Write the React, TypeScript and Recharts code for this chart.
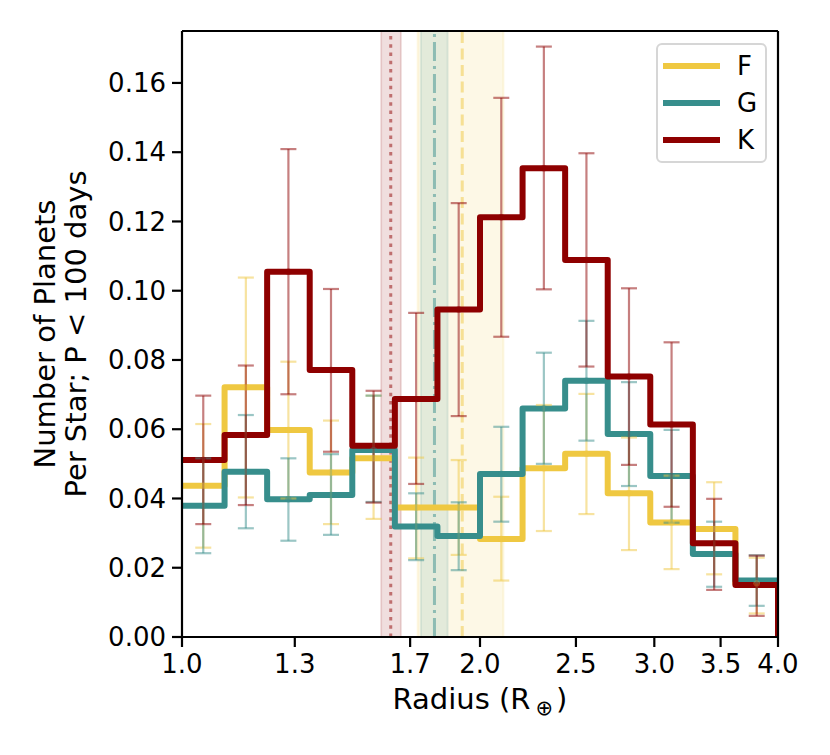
import React from "react";
import {
  ComposedChart,
  Line,
  Scatter,
  ErrorBar,
  XAxis,
  YAxis,
  ReferenceArea,
  ReferenceLine,
  Label,
} from "recharts";

// log-uniform radius bins, 1 to 4 Earth radii
const BIN_EDGES = [1.0, 1.1041, 1.219, 1.3459, 1.486, 1.6407, 1.8115, 2.0, 2.2082, 2.438, 2.6918, 2.9719, 3.2813, 3.6229, 4.0];
const BIN_CENTERS = [1.0507, 1.1601, 1.2808, 1.4142, 1.5614, 1.7239, 1.9033, 2.1015, 2.3203, 2.5618, 2.8284, 3.1228, 3.4479, 3.8068];

const F_VALUES = [0.0437, 0.0721, 0.0598, 0.0475, 0.0516, 0.0374, 0.0374, 0.0283, 0.0487, 0.0529, 0.0415, 0.0331, 0.0312, 0.0155];
const F_LOW = [0.0258, 0.0403, 0.040, 0.0326, 0.0341, 0.0227, 0.0237, 0.0163, 0.0306, 0.0355, 0.0251, 0.0196, 0.0181, 0.0068];
const F_HIGH = [0.0615, 0.1038, 0.0795, 0.0625, 0.0697, 0.0518, 0.0511, 0.0405, 0.067, 0.0702, 0.0576, 0.0466, 0.0447, 0.0229];

const G_VALUES = [0.0379, 0.0477, 0.0398, 0.041, 0.054, 0.0319, 0.0292, 0.0471, 0.066, 0.074, 0.0586, 0.0465, 0.024, 0.0163];
const G_LOW = [0.0242, 0.0314, 0.0278, 0.0295, 0.039, 0.0222, 0.0193, 0.0333, 0.05, 0.0567, 0.0436, 0.033, 0.0145, 0.009];
const G_HIGH = [0.0516, 0.0641, 0.0516, 0.0528, 0.0697, 0.0415, 0.0389, 0.0607, 0.0821, 0.0913, 0.0736, 0.0598, 0.0333, 0.0236];

const K_VALUES = [0.0511, 0.0583, 0.1055, 0.0771, 0.0552, 0.0687, 0.0946, 0.1212, 0.1354, 0.1089, 0.0752, 0.0614, 0.0271, 0.015];
const K_LOW = [0.0326, 0.0381, 0.0701, 0.0535, 0.0388, 0.0442, 0.0638, 0.0867, 0.1004, 0.0781, 0.0497, 0.0376, 0.0136, 0.0061];
const K_HIGH = [0.0697, 0.0784, 0.1409, 0.1005, 0.0711, 0.0936, 0.1253, 0.1557, 0.1705, 0.1397, 0.1007, 0.0851, 0.0399, 0.0235];

const X_TICKS = [1.0, 1.3, 1.7, 2.0, 2.5, 3.0, 3.5, 4.0];
const Y_TICKS = [0, 0.02, 0.04, 0.06, 0.08, 0.1, 0.12, 0.14, 0.16];

const F_COLOR = "#EFC841";
const G_COLOR = "#378E8C";
const K_COLOR = "#8E0000";

const SERIES = [
  { name: "F", color: F_COLOR, values: F_VALUES, low: F_LOW, high: F_HIGH },
  { name: "G", color: G_COLOR, values: G_VALUES, low: G_LOW, high: G_HIGH },
  { name: "K", color: K_COLOR, values: K_VALUES, low: K_LOW, high: K_HIGH },
];

// radius gap location per spectral type: band = range, line = centre
const GAP_BANDS = [
  { x1: 1.73, x2: 2.112, color: F_COLOR },
  { x1: 1.743, x2: 1.855, color: G_COLOR },
  { x1: 1.589, x2: 1.664, color: K_COLOR },
];
const GAP_LINES = [
  { x: 1.919, color: F_COLOR, dash: "11 5.5" },
  { x: 1.799, color: G_COLOR, dash: "19 5 3 5" },
  { x: 1.625, color: K_COLOR, dash: "3.5 4.8" },
];

const FONT = "'DejaVu Sans', Verdana, sans-serif";

const stepData = (values: number[]) => [
  ...BIN_EDGES.map((x, i) => ({ x, y: values[Math.min(i, values.length - 1)] })),
  { x: BIN_EDGES[BIN_EDGES.length - 1], y: 0 },
];

const errorData = (s: (typeof SERIES)[number]) =>
  BIN_CENTERS.map((x, i) => ({
    x,
    y: s.values[i],
    err: [s.values[i] - s.low[i], s.high[i] - s.values[i]],
  }));

const YAxisTitle = (props: any) => {
  const vb = props.viewBox || { y: 31, height: 606 };
  const cy = vb.y + vb.height / 2;
  return (
    <g fontFamily={FONT} fontSize={29} fill="#000">
      <text x={55} y={cy} textAnchor="middle" transform={`rotate(-90, 55, ${cy})`}>
        Number of Planets
      </text>
      <text x={86} y={cy} textAnchor="middle" transform={`rotate(-90, 86, ${cy})`}>
        Per Star; P &lt; 100 days
      </text>
    </g>
  );
};

const XAxisTitle = (props: any) => {
  const vb = props.viewBox || { x: 182, width: 596 };
  const cx = vb.x + vb.width / 2;
  return (
    <text x={cx} y={709} textAnchor="middle" fontFamily={FONT} fontSize={29} fill="#000">
      <tspan>Radius (R</tspan>
      <tspan fontSize={21} dy={6} dx={5}>⊕</tspan>
      <tspan dy={-6} dx={3}>)</tspan>
    </text>
  );
};

export default function App() {
  return (
    <div style={{ position: "absolute", left: 0, top: 0, width: 830, height: 755, background: "#fff" }}>
      <ComposedChart width={830} height={755} margin={{ top: 31, right: 52, bottom: 0, left: 0 }}>
        <XAxis
          type="number"
          dataKey="x"
          scale="log"
          domain={[1, 4]}
          ticks={X_TICKS}
          allowDataOverflow
          height={118}
          tickSize={10}
          tickMargin={8}
          tickFormatter={(v: number) => v.toFixed(1)}
          tick={{ fontFamily: FONT, fontSize: 26, fill: "#000" }}
          axisLine={{ stroke: "#000", strokeWidth: 2.2 }}
          tickLine={{ stroke: "#000", strokeWidth: 2.2 }}
        >
          <Label content={XAxisTitle} />
        </XAxis>
        <YAxis
          type="number"
          dataKey="y"
          domain={[0, 0.175]}
          ticks={Y_TICKS}
          allowDataOverflow
          width={182}
          tickSize={10}
          tickMargin={6}
          tickFormatter={(v: number) => v.toFixed(2)}
          tick={{ fontFamily: FONT, fontSize: 26, fill: "#000" }}
          axisLine={{ stroke: "#000", strokeWidth: 2.2 }}
          tickLine={{ stroke: "#000", strokeWidth: 2.2 }}
        >
          <Label content={YAxisTitle} />
        </YAxis>

        {GAP_BANDS.map((b, i) => (
          <ReferenceArea
            key={`band-${i}`}
            x1={b.x1}
            x2={b.x2}
            y1={0}
            y2={0.175}
            fill={b.color}
            fillOpacity={0.13}
            stroke={b.color}
            strokeOpacity={0.13}
            strokeWidth={2}
          />
        ))}
        {GAP_LINES.map((l, i) => (
          <ReferenceLine
            key={`gap-${i}`}
            x={l.x}
            stroke={l.color}
            strokeOpacity={0.5}
            strokeWidth={3}
            strokeDasharray={l.dash}
          />
        ))}

        {SERIES.map((s) => (
          <Line
            key={`step-${s.name}`}
            data={stepData(s.values)}
            dataKey="y"
            type="stepAfter"
            stroke={s.color}
            strokeWidth={6}
            strokeLinejoin="round"
            dot={false}
            activeDot={false}
            isAnimationActive={false}
          />
        ))}

        {SERIES.map((s) => (
          <Scatter
            key={`err-${s.name}`}
            data={errorData(s)}
            dataKey="y"
            isAnimationActive={false}
            shape={(p: any) => <circle cx={p.cx} cy={p.cy} r={3.2} fill={s.color} fillOpacity={0.5} />}
          >
            <ErrorBar dataKey="err" direction="y" width={8} stroke={s.color + "80"} strokeWidth={2.2} />
          </Scatter>
        ))}

        <ReferenceLine y={0.175} stroke="#000" strokeWidth={2.2} />
        <ReferenceLine x={4} stroke="#000" strokeWidth={2.2} />
      </ComposedChart>

      <div
        style={{
          position: "absolute",
          left: 656,
          top: 43,
          width: 107,
          height: 116,
          border: "2px solid #d6d6d6",
          borderRadius: 6,
          background: "rgba(255,255,255,0.8)",
          fontFamily: FONT,
          fontSize: 26,
        }}
      >
        {SERIES.map((s, i) => (
          <div
            key={s.name}
            style={{ position: "absolute", left: 5, top: 5 + i * 37, height: 32, display: "flex", alignItems: "center" }}
          >
            <div style={{ width: 57, height: 6.5, background: s.color }} />
            <span style={{ marginLeft: 17, lineHeight: "32px" }}>{s.name}</span>
          </div>
        ))}
      </div>
    </div>
  );
}
